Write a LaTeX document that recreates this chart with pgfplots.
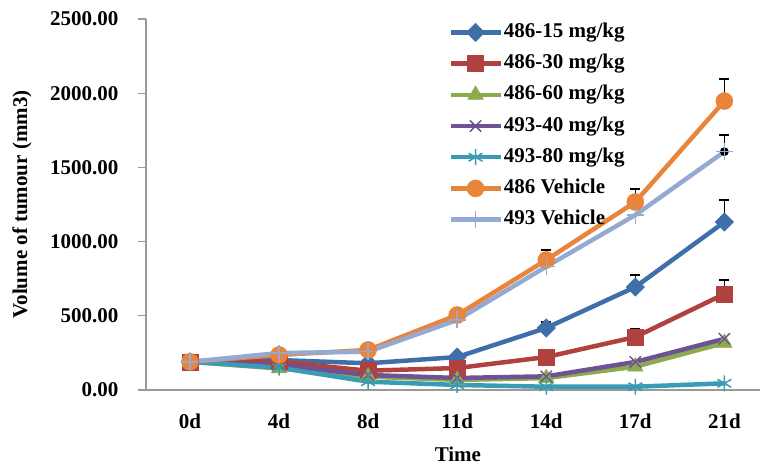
\documentclass[border=0pt]{standalone}
\usepackage{pgfplots}
\pgfplotsset{compat=1.18}
\usepackage{fontspec}
\setmainfont{Liberation Serif}
\definecolor{cblue}{HTML}{3F6FAA}
\definecolor{cred}{HTML}{B0413E}
\definecolor{cgreen}{HTML}{8CAB4C}
\definecolor{cpurple}{HTML}{6E5294}
\definecolor{cteal}{HTML}{3A9BB5}
\definecolor{corange}{HTML}{E8853A}
\definecolor{clblue}{HTML}{94AAD3}
\newcommand{\ff}{\bfseries\fontsize{21}{25}\selectfont}
\begin{document}
\begin{tikzpicture}
\path[use as bounding box] (0,0) rectangle (760pt,466pt);
\begin{axis}[
  at={(146pt,76pt)}, anchor=south west,
  scale only axis, width=614pt, height=371pt,
  xmin=-0.494, xmax=6.40, ymin=0, ymax=2500,
  clip=false,
  axis lines*=left,
  axis line style={-, draw=gray!80, line width=1.3pt},
  xtick={0,1,2,3,4,5,6},
  xticklabels={0d,4d,8d,11d,14d,17d,21d},
  xtick style={draw=none},
  ytick={0,500,1000,1500,2000,2500},
  ytick style={draw=gray!80, line width=1.3pt},
  tick align=outside, major tick length=8pt,
  /pgf/number format/assume math mode=true,
  yticklabel={\pgfmathprintnumber[fixed, fixed zerofill, precision=2, 1000 sep={}]{\tick}},
  ticklabel style={font=\ff},
  yticklabel style={xshift=-16pt},
  xticklabel style={yshift=-12pt},
  xlabel={Time},
  xlabel style={font=\ff, at={(axis description cs:0.508,0)}, anchor=north, yshift=-57pt, inner sep=0pt},
  ylabel={Volume of tumour (mm3)},
  ylabel style={font=\ff, at={(axis description cs:-0.202,0.5)}, anchor=center},
  legend style={at={(0.492,0.994)}, anchor=north west, draw=none, fill=none, font=\ff,
    inner sep=0pt, row sep=9.2pt, nodes={text height=15pt, text depth=5pt, inner sep=1pt}},
  legend cell align=left,
  legend image code/.code={\draw[mark repeat=2, mark phase=2, #1] plot coordinates {(0pt,0pt) (25pt,0pt) (50pt,0pt)};},
  every axis plot/.append style={line width=4.5pt, mark options={solid}},
  error bars/error bar style={black, line width=1.2pt},
  error bars/error mark options={rotate=90, mark size=5pt, black, line width=1.2pt},
]
% error bars (upper only)
\addplot[only marks, mark=none, forget plot, error bars/.cd, y dir=plus, y explicit]
  table[x=x, y=y, y error=e] {
x y e
4 418 40
5 694 81
6 1132 148
5 357 60
6 647 94
4 876 67
5 1267 87
6 1947 149
6 1606 112
};
\addplot[cblue, mark=square*, mark size=6.5pt, mark options={rotate=45, fill=cblue, line width=0.5pt}]
  coordinates {(0,190) (1,202) (2,180) (3,222) (4,418) (5,694) (6,1132)};
\addlegendentry{486-15 mg/kg}
\addplot[cred, mark=square*, mark size=8pt, mark options={fill=cred, line width=0.5pt}]
  coordinates {(0,190) (1,191) (2,130) (3,148) (4,222) (5,357) (6,647)};
\addlegendentry{486-30 mg/kg}
\addplot[cgreen, mark=triangle*, mark size=9pt, mark options={fill=cgreen, line width=0.5pt}]
  coordinates {(0,190) (1,145) (2,90) (3,68) (4,80) (5,157) (6,317)};
\addlegendentry{486-60 mg/kg}
\addplot[cpurple, mark=x, mark size=8pt, mark options={line width=1.5pt}]
  coordinates {(0,190) (1,168) (2,101) (3,81) (4,92) (5,189) (6,345)};
\addlegendentry{493-40 mg/kg}
\addplot[cteal, mark=asterisk, mark size=8pt, mark options={line width=1.5pt}]
  coordinates {(0,190) (1,150) (2,56) (3,34) (4,22) (5,22) (6,45)};
\addlegendentry{493-80 mg/kg}
\addplot[corange, mark=*, mark size=8.5pt, mark options={fill=corange, line width=0.5pt}]
  coordinates {(0,190) (1,236) (2,270) (3,505) (4,876) (5,1267) (6,1947)};
\addlegendentry{486 Vehicle}
\addplot[clblue, mark=+, mark size=8.5pt, mark options={line width=1.5pt}]
  coordinates {(0,190) (1,249) (2,258) (3,472) (4,831) (5,1179) (6,1606)};
\addlegendentry{493 Vehicle}
\end{axis}
\end{tikzpicture}
\end{document}
